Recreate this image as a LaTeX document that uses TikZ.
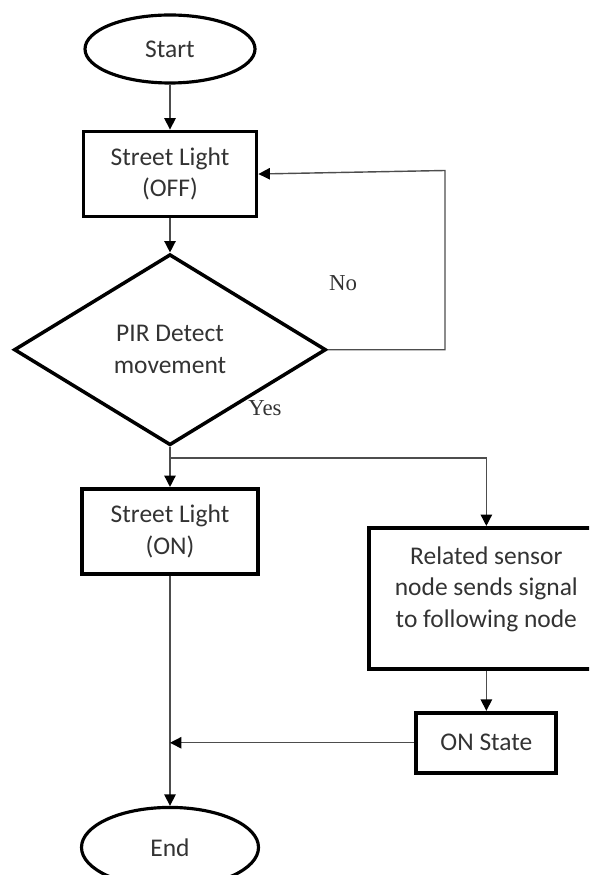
\documentclass[tikz,border=0pt]{standalone}
\usepackage{fontspec}
\setmainfont{Carlito}
\newfontfamily\labelfont{Liberation Serif}
\usepackage{tikz}
\usetikzlibrary{arrows.meta,positioning,shapes.geometric}
\definecolor{ink}{HTML}{333333}
\definecolor{wire}{HTML}{4D4D4D}
\tikzset{
  termbox/.style={
    ellipse, draw=black, line width=1.8pt,
    minimum width=#1, minimum height=1.36cm,
    font=\fontsize{14.5}{18}\selectfont, text=ink,
    inner sep=2pt
  },
  termbox/.default=3.4cm,
  procbox/.style={
    rectangle, draw=black, line width=2.2pt,
    minimum width=#1, minimum height=1.7cm,
    font=\fontsize{14.5}{18}\selectfont, text=ink, align=center,
    inner sep=3pt
  },
  procbox/.default=3.46cm,
  decisionbox/.style={
    diamond, draw=black, line width=2pt,
    minimum width=6.24cm, minimum height=3.82cm,
    font=\fontsize{14.5}{18}\selectfont, text=ink, align=center,
    inner sep=1pt
  },
  flowarrow/.style={
    -{Triangle[length=6.5pt,width=6.5pt,color=black]}, line width=0.8pt, color=wire
  },
  edgelabel/.style={font=\labelfont\fontsize{13}{15}\selectfont,
    text=ink, inner sep=0pt},
}

\begin{document}
\begin{tikzpicture}
  \clip (0,0) rectangle (11.78,-17.5);
  % main column
  \node[termbox] (start) at (3.4,-0.98) {Start};
  \node[procbox, below=0.9cm of start] (off) {Street Light\\(OFF)};
  \node[decisionbox, below=0.68cm of off] (dec) {PIR Detect\\movement};
  \node[procbox=3.52cm, below=0.8cm of dec] (on) {Street Light\\(ON)};
  \node[termbox=3.54cm, minimum height=1.6cm, below=4.6cm of on] (stop) {End};
  % side branch
  \node[procbox=4.7cm, minimum height=2.82cm, text depth=0.45cm,
        right=2.14cm of on.north east, anchor=north west, yshift=-0.78cm]
        (relay) {Related sensor\\node sends signal\\to following node};
  \node[procbox=2.8cm, minimum height=1.2cm, below=0.8cm of relay] (onstate) {ON State};
  % labels
  \node[edgelabel] (lblno) at (6.86,-5.66) {No};
  \node[edgelabel] (lblyes) at (5.3,-8.16) {Yes};
  % connectors
  \coordinate (loopcorner) at (8.9,-3.41);
  \coordinate (split) at ([yshift=-0.22cm]dec.south);
  \draw[flowarrow] (start) -- (off);
  \draw[flowarrow] (off) -- (dec);
  \draw[flowarrow] (dec.east) -| (loopcorner) -- (off.east);
  \draw[flowarrow] (dec.south) -- (on.north);
  \draw[flowarrow] (split) -| (relay.north);
  \draw[flowarrow] (relay) -- (onstate);
  \draw[flowarrow] (on) -- (stop);
  \draw[flowarrow] (onstate.west) -- (onstate.west -| on.south);
\end{tikzpicture}
\end{document}
